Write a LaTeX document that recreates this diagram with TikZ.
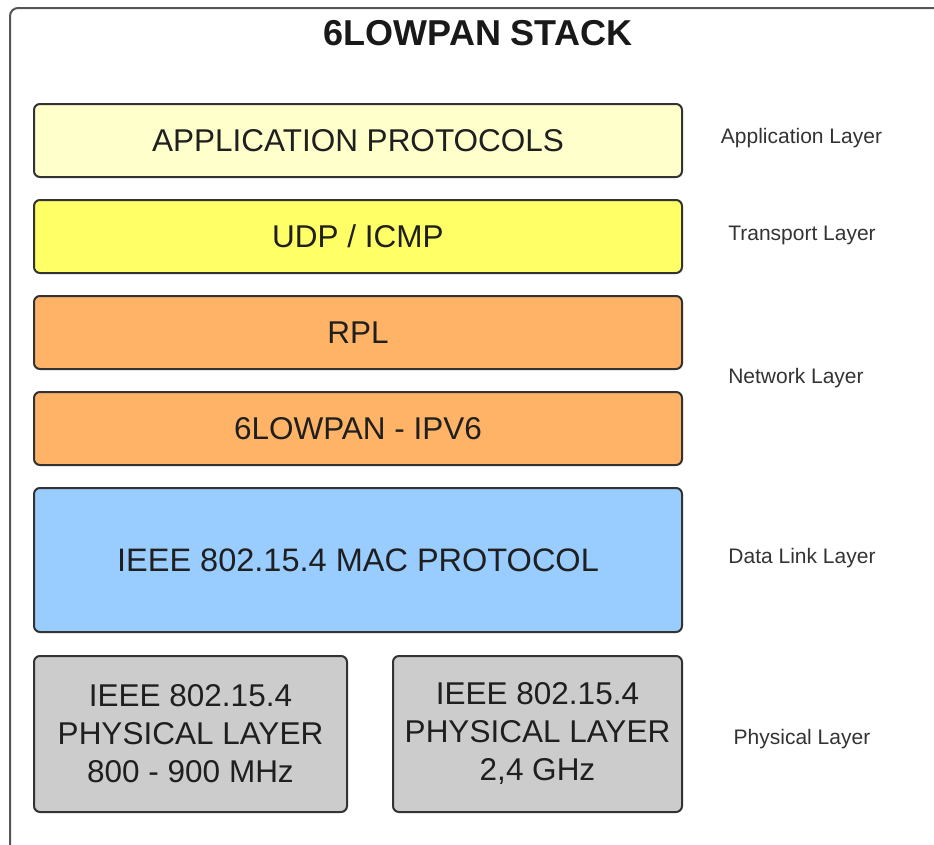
\documentclass[tikz,border=0pt]{standalone}
\usepackage{fontspec}
\setmainfont{Liberation Sans}
\definecolor{appc}{HTML}{FFFFCC}
\definecolor{udpc}{HTML}{FFFF66}
\definecolor{netc}{HTML}{FFB366}
\definecolor{macc}{HTML}{99CCFF}
\definecolor{phyc}{HTML}{CCCCCC}
\definecolor{edgec}{HTML}{333333}
\definecolor{framec}{HTML}{555555}
\begin{document}
\begin{tikzpicture}[x=1pt,y=-1pt,
  layerbox/.style={draw=edgec,line width=2pt,rounded corners=6pt,align=center,
    font=\fontsize{31.5}{38}\selectfont,text=black!88,inner sep=0pt},
  layerlabel/.style={font=\fontsize{21}{25}\selectfont,text=black!80,inner sep=0pt}]
\useasboundingbox (0,0) rectangle (934,844);
\begin{scope}
\clip (0,0) rectangle (934,844);
\draw[framec,line width=2pt,rounded corners=8pt] (10,8) rectangle (960,880);
\end{scope}
\node[font=\fontsize{36}{42}\selectfont\bfseries,text=black!90] (title) at (478,33) {6LOWPAN STACK};
\node[layerbox,fill=appc,minimum width=648pt,minimum height=73pt] (app) at (358,140.5) {APPLICATION PROTOCOLS};
\node[layerbox,fill=udpc,minimum width=648pt,minimum height=73pt] (udp) at (358,236.5) {UDP / ICMP};
\node[layerbox,fill=netc,minimum width=648pt,minimum height=73pt] (rpl) at (358,332.5) {RPL};
\node[layerbox,fill=netc,minimum width=648pt,minimum height=73pt] (lowpan) at (358,428.5) {6LOWPAN - IPV6};
\node[layerbox,fill=macc,minimum width=648pt,minimum height=144pt,font=\fontsize{32.5}{38}\selectfont] (mac) at (358,560) {IEEE 802.15.4 MAC PROTOCOL};
\node[layerbox,fill=phyc,minimum width=313pt,minimum height=156pt] (phy1) at (190.5,734) {IEEE 802.15.4\\PHYSICAL LAYER\\800 - 900 MHz};
\node[layerbox,fill=phyc,minimum width=289pt,minimum height=156pt] (phy2) at (537.5,734) {IEEE 802.15.4\\PHYSICAL LAYER\\2,4 GHz};
\node[layerlabel] (lapp) at (801.5,138) {Application Layer};
\node[layerlabel] (ltra) at (802,235) {Transport Layer};
\node[layerlabel] (lnet) at (796,378) {Network Layer};
\node[layerlabel] (ldl) at (802,558) {Data Link Layer};
\node[layerlabel] (lphy) at (802,739) {Physical Layer};
\end{tikzpicture}
\end{document}
